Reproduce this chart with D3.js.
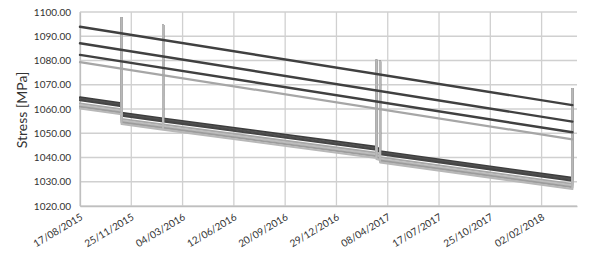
<!DOCTYPE html>
<html>
<head>
<meta charset="utf-8">
<script src="https://cdn.jsdelivr.net/npm/d3@7"></script>
<style>
  html, body { margin: 0; padding: 0; background: #fff; }
  svg { display: block; }
  text { font-family: Lato, "Open Sans", sans-serif; fill: #333; }
</style>
</head>
<body>
<svg id="chart" width="600" height="259"></svg>
<script>
// ---------- data ----------
const yTicks = [1020, 1030, 1040, 1050, 1060, 1070, 1080, 1090, 1100];
const xTickLabels = ["17/08/2015", "25/11/2015", "04/03/2016", "12/06/2016", "20/09/2016",
  "29/12/2016", "08/04/2017", "17/07/2017", "25/10/2017", "02/02/2018"];
const xDomain = ["2015-08-17", "2018-04-12"];

// top (continuous) series: start / end
const topDates = ["2015-08-17", "2018-04-03"];
const topA = [1093.9, 1061.6];
const topB = [1087.1, 1054.8];
const topC = [1082.3, 1050.4];
const topD = [1079.3, 1047.5];

// bottom group: readings with spikes
const bottomDates = [
  "2015-08-17",
  "2015-11-06", "2015-11-06", "2015-11-06",
  "2016-01-26", "2016-01-26", "2016-01-26",
  "2017-03-17", "2017-03-17", "2017-03-17",
  "2017-03-24", "2017-03-24", "2017-03-24",
  "2018-04-03", "2018-04-03"
];
const bottom1 = [1064.8, 1062.4, 1097.4, 1058.4, 1056.1, 1094.6, 1056.1, 1044.4, 1080.0, 1044.0, 1043.6, 1079.6, 1042.6, 1031.6, 1068.2];
const bottom2 = [1064.2, 1061.8, 1097.4, 1057.8, 1055.5, 1094.6, 1055.5, 1043.8, 1080.0, 1043.4, 1043.0, 1079.6, 1042.0, 1031.0, 1068.2];
const bottom3 = [1063.6, 1061.2, 1097.4, 1057.2, 1054.9, 1094.6, 1054.9, 1043.2, 1080.0, 1042.8, 1042.4, 1079.6, 1041.4, 1030.4, 1068.2];
const bottom4 = [1062.3, 1059.9, 1097.4, 1055.9, 1053.6, 1094.6, 1053.6, 1041.9, 1080.0, 1041.5, 1041.1, 1079.6, 1040.1, 1029.1, 1068.2];
const bottom5 = [1061.6, 1059.2, 1097.4, 1055.2, 1052.9, 1094.6, 1052.9, 1041.2, 1080.0, 1040.8, 1040.4, 1079.6, 1039.4, 1028.4, 1068.2];
const bottom6 = [1060.9, 1058.5, 1097.4, 1054.5, 1052.2, 1094.6, 1052.2, 1040.5, 1080.0, 1040.1, 1039.7, 1079.6, 1038.7, 1027.7, 1068.2];
const bottom7 = [1060.2, 1057.8, 1097.4, 1053.8, 1051.5, 1094.6, 1051.5, 1039.8, 1080.0, 1039.4, 1039.0, 1079.6, 1038.0, 1027.0, 1068.2];

// ---------- layout ----------
const parse = d3.utcParse("%Y-%m-%d");
const svg = d3.select("#chart");
const L = 80, R = 577, T = 12, B = 206;

const x = d3.scaleUtc().domain(xDomain.map(parse)).range([L, R]);
const y = d3.scaleLinear().domain([1020, 1100]).range([B, T]);
const tickDates = xTickLabels.map(d3.utcParse("%d/%m/%Y"));

// grid
const grid = svg.append("g");
grid.selectAll("line.h").data(yTicks).join("line")
  .attr("x1", L).attr("x2", R)
  .attr("y1", d => y(d)).attr("y2", d => y(d))
  .attr("stroke", "#d0d0d0").attr("stroke-width", 1.3);
grid.selectAll("line.v").data(tickDates).join("line")
  .attr("x1", d => x(d)).attr("x2", d => x(d))
  .attr("y1", T).attr("y2", B)
  .attr("stroke", "#d0d0d0").attr("stroke-width", 1.3);

// axes
const yAxis = svg.append("g").attr("transform", `translate(${L},0)`)
  .call(d3.axisLeft(y).tickValues(yTicks).tickFormat(d3.format(".2f")).tickSize(0).tickPadding(9));
yAxis.select(".domain").attr("stroke", "#bfbfbf").attr("stroke-width", 1.3);
yAxis.selectAll("text").style("font-size", "10px").attr("fill", "#2b2b2b");

const xAxis = svg.append("g").attr("transform", `translate(0,${B})`)
  .call(d3.axisBottom(x).tickValues(tickDates).tickFormat(d3.utcFormat("%d/%m/%Y")).tickSize(0).tickPadding(0));
xAxis.select(".domain").attr("stroke", "#bfbfbf").attr("stroke-width", 1.3);
xAxis.selectAll("text")
  .style("font-size", "10px").attr("fill", "#2b2b2b")
  .attr("text-anchor", "end")
  .attr("dy", null).attr("y", 0)
  .attr("transform", "translate(3,13) rotate(-31)");

// y title
svg.append("text")
  .attr("transform", `translate(27,${(T + B) / 2 + 1}) rotate(-90)`)
  .attr("text-anchor", "middle")
  .style("font-size", "14px")
  .attr("fill", "#2b2b2b")
  .text("Stress [MPa]");

// lines
const line = d3.line().x(d => x(d[0])).y(d => y(d[1]));
const mk = (dates, vals) => dates.map((d, i) => [parse(d), vals[i]]);

const series = [
  { d: mk(bottomDates, bottom1), c: "#3d3d3d", w: 2.1 },
  { d: mk(bottomDates, bottom2), c: "#505050", w: 2.1 },
  { d: mk(bottomDates, bottom3), c: "#454545", w: 2.1 },
  { d: mk(bottomDates, bottom4), c: "#a8a8a8", w: 2.1 },
  { d: mk(bottomDates, bottom5), c: "#bdbdbd", w: 2.1 },
  { d: mk(bottomDates, bottom6), c: "#9c9c9c", w: 2.1 },
  { d: mk(bottomDates, bottom7), c: "#b8b8b8", w: 2.1 },
  { d: mk(topDates, topD), c: "#a6a6a6", w: 2.2 },
  { d: mk(topDates, topC), c: "#404040", w: 2.4 },
  { d: mk(topDates, topB), c: "#404040", w: 2.4 },
  { d: mk(topDates, topA), c: "#404040", w: 2.4 }
];

svg.append("g").selectAll("path").data(series).join("path")
  .attr("d", s => line(s.d))
  .attr("fill", "none")
  .attr("stroke", s => s.c)
  .attr("stroke-width", s => s.w)
  .attr("stroke-linejoin", "round")
  .attr("stroke-linecap", "round");
</script>
</body>
</html>
